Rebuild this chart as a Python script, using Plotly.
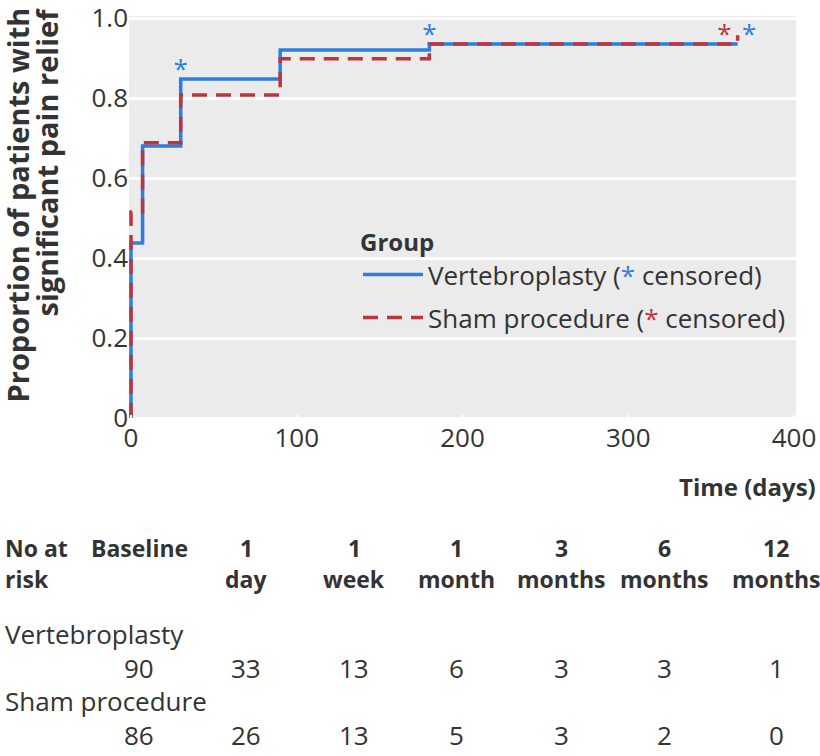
import plotly.graph_objects as go

# ---- data ----
vert_t = [0, 0, 7, 30, 90, 180, 366]
vert_s = [0, 0.4375, 0.68, 0.8475, 0.92, 0.935, 0.935]
sham_t = [0, 0, 7, 30, 90, 180, 366, 366]
sham_s = [0, 0.515, 0.688, 0.8075, 0.898, 0.935, 0.935, 0.957]

vert_cens_t = [30, 180, 373]
vert_cens_s = [0.8475, 0.935, 0.935]
sham_cens_t = [358]
sham_cens_s = [0.935]

risk_headers_top = ["Baseline", "1", "1", "1", "3", "6", "12"]
risk_headers_bot = ["", "day", "week", "month", "months", "months", "months"]
vert_risk = [90, 33, 13, 6, 3, 3, 1]
sham_risk = [86, 26, 13, 5, 3, 2, 0]

x_ticks = [0, 100, 200, 300, 400]
y_ticks = [0, 0.2, 0.4, 0.6, 0.8, 1.0]
y_ticklabels = ["0", "0.2", "0.4", "0.6", "0.8", "1.0"]

# ---- style ----
BLUE = "#2a7fe3"
RED = "#c0353b"
TXT = "#333333"
FONT = "Open Sans"
W, H = 820, 756
L, R, T, B = 129, 24, 16, 336
PW, PH = W - L - R, H - T - B
Y_RANGE = [-0.005, 1.005]
CENS_LIFT = 8 / PH * (Y_RANGE[1] - Y_RANGE[0])  # asterisks sit just above the curve


def px(xp):
    return (xp - L) / PW


def py(yp):
    return (H - B - yp) / PH


fig = go.Figure()
fig.add_trace(go.Scatter(
    x=vert_t, y=vert_s, mode="lines", line=dict(color=BLUE, width=3.5, shape="hv"),
    name=f'Vertebroplasty (<span style="color:{BLUE}">*</span> censored)',
    legendgroup="a"))
fig.add_trace(go.Scatter(
    x=sham_t, y=sham_s, mode="lines", line=dict(color=RED, width=3.5, shape="hv", dash="15px,9px"),
    name=f'Sham procedure (<span style="color:{RED}">*</span> censored)',
    legendgroup="b"))
fig.add_trace(go.Scatter(
    x=vert_cens_t, y=[v + CENS_LIFT for v in vert_cens_s], mode="text", text=["*"] * len(vert_cens_t),
    textposition="middle center", textfont=dict(color=BLUE, size=26, family=FONT),
    showlegend=False, hoverinfo="skip"))
fig.add_trace(go.Scatter(
    x=sham_cens_t, y=[v + CENS_LIFT for v in sham_cens_s], mode="text", text=["*"] * len(sham_cens_t),
    textposition="middle center", textfont=dict(color=RED, size=26, family=FONT),
    showlegend=False, hoverinfo="skip"))

ann = []
# y-axis title (two right-aligned lines)
for xpix, line in [(17, "Proportion of patients with"), (46, "significant pain relief")]:
    ann.append(dict(xref="paper", yref="paper", x=px(xpix), y=py(6), xanchor="center", yanchor="top",
                    textangle=-90, showarrow=False, text=f"<b>{line}</b>",
                    font=dict(size=29, color=TXT, family=FONT)))
# x-axis title
ann.append(dict(xref="paper", yref="paper", x=px(818), y=py(487), xanchor="right", yanchor="middle",
                showarrow=False, text="<b>Time (days)</b>", font=dict(size=24, color=TXT, family=FONT)))

col_x = [139, 246, 354, 456, 561, 664, 776]
ROW_HDR1, ROW_HDR2, ROW_V, ROW_VN, ROW_S, ROW_SN = 548, 579, 634, 668, 701, 735
HF = dict(size=23, color=TXT, family=FONT)
ann.append(dict(xref="paper", yref="paper", x=px(3), y=py(ROW_HDR1), xanchor="left", yanchor="middle",
                showarrow=False, text="<b>No at</b>", font=HF))
ann.append(dict(xref="paper", yref="paper", x=px(3), y=py(ROW_HDR2), xanchor="left", yanchor="middle",
                showarrow=False, text="<b>risk</b>", font=HF))
for cx, top, bot in zip(col_x, risk_headers_top, risk_headers_bot):
    ann.append(dict(xref="paper", yref="paper", x=px(cx), y=py(ROW_HDR1), xanchor="center", yanchor="middle",
                    showarrow=False, text=f"<b>{top}</b>", font=HF))
    if bot:
        ann.append(dict(xref="paper", yref="paper", x=px(cx), y=py(ROW_HDR2), xanchor="center", yanchor="middle",
                        showarrow=False, text=f"<b>{bot}</b>", font=HF))

RF = dict(size=26, color=TXT, family=FONT)
ann.append(dict(xref="paper", yref="paper", x=px(3), y=py(ROW_V), xanchor="left", yanchor="middle",
                showarrow=False, text="Vertebroplasty", font=RF))
ann.append(dict(xref="paper", yref="paper", x=px(3), y=py(ROW_S), xanchor="left", yanchor="middle",
                showarrow=False, text="Sham procedure", font=RF))
for cx, v1, v2 in zip(col_x, vert_risk, sham_risk):
    ann.append(dict(xref="paper", yref="paper", x=px(cx), y=py(ROW_VN), xanchor="center", yanchor="middle",
                    showarrow=False, text=str(v1), font=RF))
    ann.append(dict(xref="paper", yref="paper", x=px(cx), y=py(ROW_SN), xanchor="center", yanchor="middle",
                    showarrow=False, text=str(v2), font=RF))

fig.update_layout(
    width=W, height=H, margin=dict(l=L, r=R, t=T, b=B, autoexpand=False),
    paper_bgcolor="white", plot_bgcolor="#ebebeb",
    font=dict(family=FONT, color=TXT, size=26),
    annotations=ann,
    legend=dict(x=px(358), y=py(220), xanchor="left", yanchor="top",
                bgcolor="rgba(0,0,0,0)", font=dict(size=26, color=TXT, family=FONT),
                title=dict(text="<b>Group</b>", font=dict(size=24, color=TXT, family=FONT)),
                itemwidth=60, tracegroupgap=6),
    xaxis=dict(range=[-1.2, 401.2], tickvals=x_ticks, showgrid=False, zeroline=False,
               ticks="inside", ticklen=5, tickwidth=2, tickcolor="white",
               ticklabeloverflow="allow",
               tickfont=dict(size=26, color=TXT, family=FONT), fixedrange=True),
    yaxis=dict(range=Y_RANGE, tickvals=y_ticks, ticktext=y_ticklabels,
               showgrid=True, gridcolor="white", gridwidth=2.5, zeroline=False,
               ticks="", ticklabeloverflow="allow",
               tickfont=dict(size=26, color=TXT, family=FONT), fixedrange=True),
)

fig.write_html("out.html", config={"displayModeBar": False},
               post_script="document.body.style.margin='0';")
